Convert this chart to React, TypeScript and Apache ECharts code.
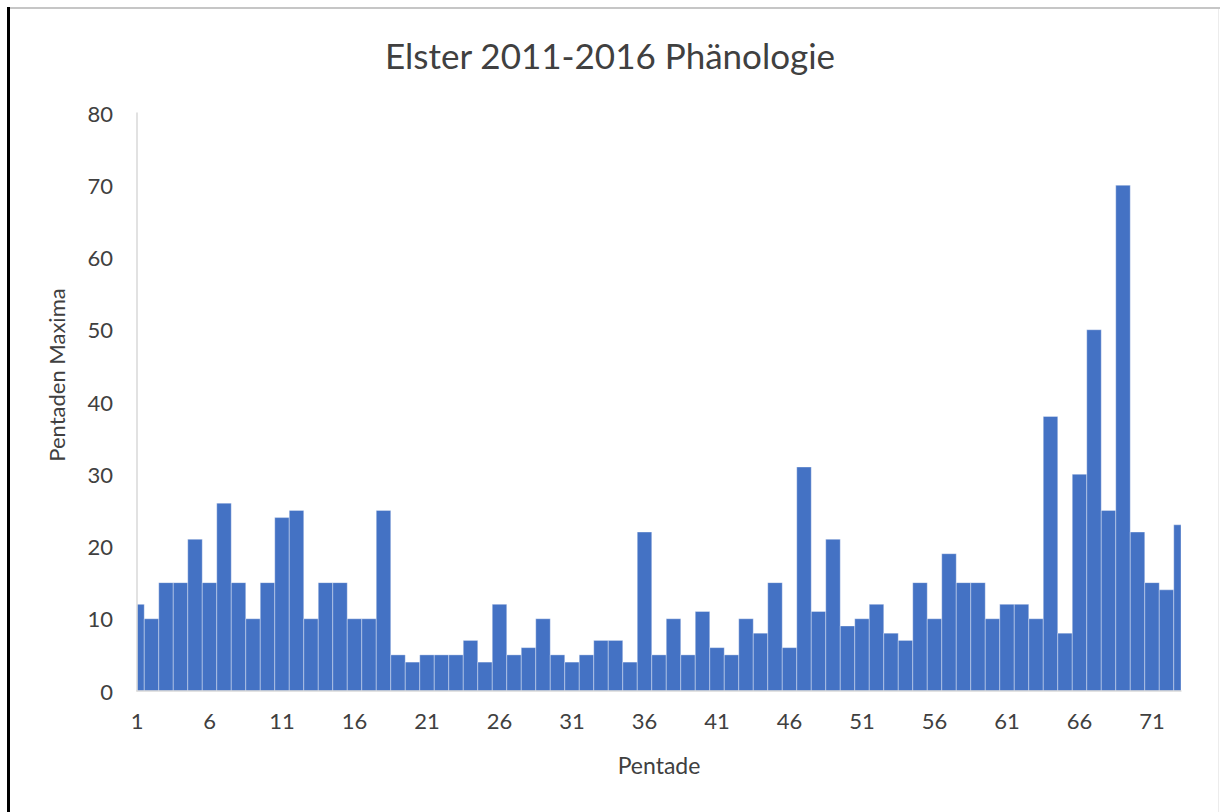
import React, { useEffect, useRef } from "react";
import * as echarts from "echarts";

const pentaden = [
  "1", "2", "3", "4", "5", "6", "7", "8", "9", "10",
  "11", "12", "13", "14", "15", "16", "17", "18", "19", "20",
  "21", "22", "23", "24", "25", "26", "27", "28", "29", "30",
  "31", "32", "33", "34", "35", "36", "37", "38", "39", "40",
  "41", "42", "43", "44", "45", "46", "47", "48", "49", "50",
  "51", "52", "53", "54", "55", "56", "57", "58", "59", "60",
  "61", "62", "63", "64", "65", "66", "67", "68", "69", "70",
  "71", "72", "73",
];

const maxima = [
  12, 10, 15, 15, 21, 15, 26, 15, 10, 15,
  24, 25, 10, 15, 15, 10, 10, 25, 5, 4,
  5, 5, 5, 7, 4, 12, 5, 6, 10, 5,
  4, 5, 7, 7, 4, 22, 5, 10, 5, 11,
  6, 5, 10, 8, 15, 6, 31, 11, 21, 9,
  10, 12, 8, 7, 15, 10, 19, 15, 15, 10,
  12, 12, 10, 38, 8, 30, 50, 25, 70, 22,
  15, 14, 23,
];

const titleText = "Elster 2011-2016 Phänologie";
const xName = "Pentade";
const yName = "Pentaden Maxima";

const FONT = "Lato, 'Noto Sans', sans-serif";
const BAR_COLOR = "#4472C4";

export default function App() {
  const ref = useRef<HTMLDivElement>(null);
  useEffect(() => {
    if (!ref.current) return;
    const chart = echarts.init(ref.current, null, { renderer: "svg" });
    const seriesData = maxima.map((v, i) => [pentaden[i], v]);
    chart.setOption({
      animation: false,
      backgroundColor: "#ffffff",
      title: {
        text: titleText,
        left: "center",
        top: 32,
        textStyle: { fontFamily: FONT, fontSize: 35, fontWeight: "normal", color: "#404040" },
      },
      grid: { left: 137, right: 39, top: 113, bottom: 121 },
      xAxis: {
        type: "category",
        data: pentaden,
        boundaryGap: false,
        name: xName,
        nameLocation: "middle",
        nameGap: 62,
        nameTextStyle: { fontFamily: FONT, fontSize: 23, color: "#404040" },
        axisLine: { show: true, lineStyle: { color: "#d9d9d9", width: 1.5 } },
        axisTick: { show: false },
        axisLabel: {
          interval: 4,
          margin: 18,
          fontFamily: FONT,
          fontSize: 22,
          color: "#404040",
        },
        splitLine: { show: false },
        z: 5,
      },
      yAxis: {
        type: "value",
        min: 0,
        max: 80,
        interval: 10,
        name: yName,
        nameLocation: "middle",
        nameGap: 70,
        nameTextStyle: {
          fontFamily: FONT,
          fontSize: 22,
          color: "#404040",
          padding: [0, 0, 0, 54],
        },
        axisLine: { show: true, lineStyle: { color: "#d9d9d9", width: 1.5 } },
        axisTick: { show: false },
        axisLabel: { margin: 24, fontFamily: FONT, fontSize: 22, color: "#404040" },
        splitLine: { show: false },
        z: 5,
      },
      series: [
        {
          type: "custom",
          data: seriesData,
          encode: { x: 0, y: 1 },
          clip: true,
          renderItem: (params: any, api: any) => {
            const idx = api.value(0);
            const val = api.value(1);
            const base = api.coord([idx, 0]);
            const top = api.coord([idx, val]);
            const w = api.size([1, 0])[0];
            const cs = params.coordSys;
            const shape = echarts.graphic.clipRectByRect(
              { x: base[0] - w / 2, y: top[1], width: w, height: base[1] - top[1] },
              { x: cs.x, y: cs.y, width: cs.width, height: cs.height }
            );
            if (!shape) return null;
            return {
              type: "rect",
              shape,
              style: {
                fill: BAR_COLOR,
                stroke: "rgba(255,255,255,0.35)",
                lineWidth: 1,
              },
            };
          },
        },
      ],
      graphic: [
        { type: "rect", shape: { x: 7, y: 7, width: 3, height: 805 }, style: { fill: "#000000" }, z: 100 },
        { type: "rect", shape: { x: 10, y: 7, width: 1210, height: 2 }, style: { fill: "#c6c6c6" }, z: 100 },
        { type: "rect", shape: { x: 1218, y: 9, width: 1, height: 803 }, style: { fill: "#ececec" }, z: 100 },
      ],
    });
    return () => chart.dispose();
  }, []);
  return (
    <div
      ref={ref}
      style={{ position: "fixed", left: 0, top: 0, width: 1220, height: 812 }}
    />
  );
}
